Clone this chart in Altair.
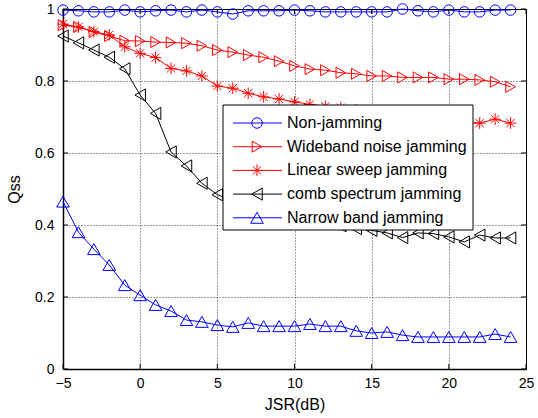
import altair as alt
import pandas as pd

# ---------------- data ----------------
jsr = [-5, -4, -3, -2, -1, 0, 1, 2, 3, 4, 5, 6, 7, 8, 9,
       10, 11, 12, 13, 14, 15, 16, 17, 18, 19, 20, 21, 22, 23, 24]

series_names = ["Non-jamming", "Wideband noise jamming", "Linear sweep jamming",
                "comb spectrum jamming", "Narrow band jamming"]

non_jamming = [0.997, 0.995, 0.992, 0.992, 0.997, 0.992, 0.995, 0.997, 0.992, 0.997,
               0.992, 0.986, 0.995, 0.995, 0.995, 0.997, 0.995, 0.992, 0.992, 0.992,
               0.992, 0.992, 1.000, 0.995, 0.992, 0.997, 0.992, 0.992, 0.997, 0.997]
wideband = [0.955, 0.950, 0.936, 0.925, 0.912, 0.911, 0.908, 0.907, 0.905, 0.898,
            0.886, 0.880, 0.872, 0.866, 0.855, 0.842, 0.833, 0.830, 0.823, 0.820,
            0.814, 0.814, 0.810, 0.810, 0.810, 0.805, 0.805, 0.803, 0.798, 0.784]
linear_sweep = [0.958, 0.950, 0.937, 0.928, 0.895, 0.877, 0.865, 0.835, 0.828, 0.814,
                0.786, 0.780, 0.766, 0.756, 0.750, 0.742, 0.735, 0.730, 0.726, 0.720,
                0.715, 0.710, 0.705, 0.700, 0.695, 0.690, 0.687, 0.683, 0.694, 0.683]
comb = [0.925, 0.906, 0.886, 0.866, 0.834, 0.761, 0.710, 0.603, 0.564, 0.516,
        0.484, 0.468, 0.455, 0.445, 0.435, 0.425, 0.415, 0.405, 0.398, 0.390,
        0.385, 0.378, 0.365, 0.378, 0.376, 0.367, 0.353, 0.372, 0.364, 0.364]
narrow = [0.465, 0.380, 0.333, 0.289, 0.233, 0.205, 0.178, 0.161, 0.136, 0.131,
          0.122, 0.117, 0.128, 0.119, 0.119, 0.119, 0.125, 0.119, 0.119, 0.106,
          0.100, 0.103, 0.094, 0.089, 0.089, 0.089, 0.089, 0.089, 0.097, 0.089]

x_ticks = [-5, 0, 5, 10, 15, 20, 25]
y_ticks = [0, 0.2, 0.4, 0.6, 0.8, 1]

# ---------------- styles ----------------
STAR = "M0,-1L0,1M-1,0L1,0M-0.7,-0.7L0.7,0.7M-0.7,0.7L0.7,-0.7"
colors = ["#0000ff", "#ff0000", "#ff0000", "#000000", "#0000ff"]
shapes = ["circle", "triangle-right", STAR, "triangle-left", "triangle-up"]
sizes = [110, 160, 110, 160, 160]
FONT = "Liberation Sans"
W, H = 463, 360

rows = []
for name, vals in zip(series_names, [non_jamming, wideband, linear_sweep, comb, narrow]):
    for xv, yv in zip(jsr, vals):
        rows.append({"x": xv, "y": yv, "series": name})
df = pd.DataFrame(rows)

color_scale = alt.Scale(domain=series_names, range=colors)
shape_scale = alt.Scale(domain=series_names, range=shapes)
size_scale = alt.Scale(domain=series_names, range=sizes)

x_enc = alt.X("x:Q", scale=alt.Scale(domain=[-5, 25], nice=False, zero=False),
              axis=alt.Axis(values=x_ticks, title="JSR(dB)", labelPadding=7,
                            labelFlush=False, titlePadding=6))
y_enc = alt.Y("y:Q", scale=alt.Scale(domain=[0, 1], nice=False),
              axis=alt.Axis(values=y_ticks, format="~g", title="Qss", labelPadding=9,
                            labelFlush=False, titleX=-41, titleY=H / 2))

color_enc = alt.Color("series:N", scale=color_scale, legend=None)
shape_enc = alt.Shape("series:N", scale=shape_scale, legend=None)
size_enc = alt.Size("series:N", scale=size_scale, legend=None)

lines = alt.Chart(df).mark_line(strokeWidth=1).encode(
    x=x_enc, y=y_enc, color=color_enc)
points = alt.Chart(df).mark_point(filled=False, strokeWidth=1, opacity=1).encode(
    x="x:Q", y="y:Q", color=color_enc, shape=shape_enc, size=size_enc)

# inward tick marks (MATLAB style)
xt = pd.DataFrame({"x": x_ticks})
yt = pd.DataFrame({"y": y_ticks})
tick_b = alt.Chart(xt).mark_rule(color="black", strokeWidth=1).encode(
    x="x:Q", y=alt.value(H), y2=alt.value(H - 5))
tick_t = alt.Chart(xt).mark_rule(color="black", strokeWidth=1).encode(
    x="x:Q", y=alt.value(0), y2=alt.value(5))
tick_l = alt.Chart(yt).mark_rule(color="black", strokeWidth=1).encode(
    y="y:Q", x=alt.value(0), x2=alt.value(5))
tick_r = alt.Chart(yt).mark_rule(color="black", strokeWidth=1).encode(
    y="y:Q", x=alt.value(W), x2=alt.value(W - 5))

# legend box
leg_df = pd.DataFrame({"series": series_names, "i": list(range(len(series_names)))})
box = alt.Chart(pd.DataFrame({"a": [0]})).mark_rect(
    fill="white", stroke="black", strokeWidth=1).encode(
    x=alt.value(160), x2=alt.value(410), y=alt.value(96), y2=alt.value(221))
leg_base = alt.Chart(leg_df).transform_calculate(ly="114 + datum.i * 23.7")
ly = alt.Y("ly:Q", scale=None, axis=None)
leg_lines = leg_base.mark_rule(strokeWidth=1).encode(
    x=alt.value(170), x2=alt.value(219), y=ly, color=color_enc)
leg_pts = leg_base.mark_point(filled=False, strokeWidth=1, opacity=1).encode(
    x=alt.value(194), y=ly, color=color_enc, shape=shape_enc, size=size_enc)
leg_txt = leg_base.mark_text(align="left", baseline="middle", font=FONT,
                             fontSize=16, color="black").encode(
    x=alt.value(224), y=ly, text="series:N")

chart = alt.layer(
    lines, points, tick_b, tick_t, tick_l, tick_r, box, leg_lines, leg_pts, leg_txt
).properties(
    width=W, height=H,
    padding={"left": 63, "top": 9, "right": 12, "bottom": 49},
    autosize=alt.AutoSizeParams(type="none"),
).configure(
    background="white"
).configure_view(
    stroke="black", strokeWidth=1
).configure_axis(
    domainColor="black", domainWidth=1.5, ticks=False,
    grid=True, gridColor="#000000", gridDash=[1, 2], gridWidth=1, gridOpacity=0.75,
    labelFont=FONT, labelFontSize=14, labelColor="black",
    titleFont=FONT, titleFontSize=16, titleFontWeight="normal", titleColor="black",
)

chart.save("out.html", embed_options={"renderer": "svg", "actions": False})
